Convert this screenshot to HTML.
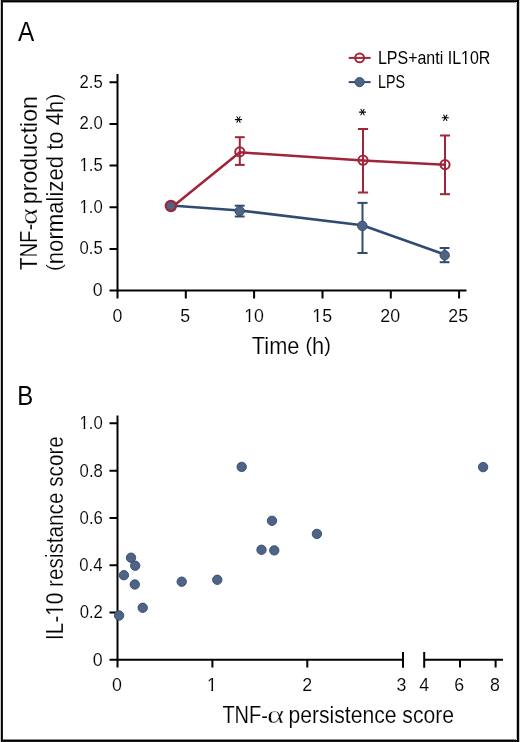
<!DOCTYPE html>
<html><head><meta charset="utf-8">
<style>
html,body{margin:0;padding:0;background:#fff;}
body{width:520px;height:742px;overflow:hidden;}
svg{display:block;will-change:transform;}
text{font-family:"Liberation Sans",sans-serif;fill:#000;}
</style></head><body>
<svg width="520" height="742" viewBox="0 0 520 742">
<rect x="0" y="0" width="520" height="742" fill="#fff"/>
<g shape-rendering="crispEdges">
<rect x="1" y="0" width="518" height="1" fill="rgb(25,25,25)"/><rect x="1" y="1" width="518" height="1" fill="#000"/><rect x="3" y="2" width="513" height="1" fill="rgb(150,150,150)"/>
<rect x="1" y="741" width="518" height="1" fill="rgb(25,25,25)"/><rect x="1" y="740" width="518" height="1" fill="#000"/><rect x="3" y="739" width="513" height="1" fill="rgb(140,140,140)"/>
<rect x="0" y="0" width="1" height="742" fill="rgb(205,205,205)"/><rect x="1" y="0" width="1" height="742" fill="#000"/><rect x="2" y="0" width="1" height="742" fill="rgb(30,30,30)"/>
<rect x="519" y="0" width="1" height="742" fill="rgb(205,205,205)"/><rect x="517" y="0" width="1" height="742" fill="#000"/><rect x="518" y="0" width="1" height="742" fill="rgb(10,10,10)"/><rect x="516" y="3" width="1" height="736" fill="rgb(195,195,195)"/>
</g>
<g stroke="#000" stroke-width="2" fill="none">
<path d="M117.5 74V298.5M109.5 290.5H466.5M109.5 82.2H117.5M109.5 123.9H117.5M109.5 165.6H117.5M109.5 207.3H117.5M109.5 249.0H117.5M185.8 290.5V298.5M254.1 290.5V298.5M322.5 290.5V298.5M390.8 290.5V298.5M459.1 290.5V298.5"/>
<path d="M117.5 415.5V667.5M109.5 659.8H403M424.2 659.8H503M403 652V667.7M424.2 652V667.7M109.5 423.3H117.5M109.5 470.8H117.5M109.5 517.9H117.5M109.5 565.2H117.5M109.5 612.5H117.5M212.4 659.8V667.5M307.3 659.8V667.5M460 659.8V667.5M495.6 659.8V667.5"/>
</g>
<text transform="matrix(0.8705,0,0,1,17.93,40.8)" font-size="28">A</text>
<text transform="matrix(0.8547,0,0,1,17.2,405.2)" font-size="28">B</text>
<text transform="matrix(0.8695,0,0,1,377.9,63.8)" font-size="18.4">LPS+anti IL10R</text>
<text transform="matrix(0.7729,0,0,1,378,87.9)" font-size="18.4">LPS</text>
<text transform="matrix(0.9473,0,0,1,251.8,353.5)" font-size="23.0" style="stroke:#fff;stroke-width:0.15px">Time <tspan font-size="21.1" dy="-1.7">(</tspan><tspan dy="1.7">h</tspan><tspan font-size="21.1" dy="-1.7">)</tspan></text>
<text transform="matrix(0,-0.8848,1,0,37.2,270)" font-size="23.0" style="stroke:#fff;stroke-width:0.15px">TNF-</text>
<text transform="matrix(0,-1.267,1,0,37.4,224.9)" font-size="25.1" style="stroke:#fff;stroke-width:0.4px"><tspan style="font-family:&quot;Liberation Serif&quot;,serif">α</tspan></text>
<text transform="matrix(0,-1.008,1,0,37.2,204.2)" font-size="23.0" style="stroke:#fff;stroke-width:0.15px">production</text>
<text transform="matrix(0,-0.9629,1,0,62.6,271)" font-size="23.0" style="stroke:#fff;stroke-width:0.15px"><tspan font-size="21.1" dy="-1.7">(</tspan><tspan dy="1.7">normalized to 4h</tspan><tspan font-size="21.1" dy="-1.7">)</tspan></text>
<text transform="matrix(0,-0.9014,1,0,62.5,639.9)" font-size="23.0" style="stroke:#fff;stroke-width:0.15px">IL-10 resistance score</text>
<text transform="matrix(0.8709,0,0,1,222.4,723)" font-size="23.0" style="stroke:#fff;stroke-width:0.15px">TNF-</text>
<text transform="matrix(1.304,0,0,1,267,723)" font-size="25.1" style="stroke:#fff;stroke-width:0.4px"><tspan style="font-family:&quot;Liberation Serif&quot;,serif">α</tspan></text>
<text transform="matrix(0.9193,0,0,1,288.4,723)" font-size="23.0" style="stroke:#fff;stroke-width:0.15px">persistence score</text>
<text transform="matrix(0.94,0,0,1,79.57,87.7)" font-size="17.8" style="stroke:#fff;stroke-width:0.12px">2.5</text>
<text transform="matrix(0.94,0,0,1,79.51,129.4)" font-size="17.8" style="stroke:#fff;stroke-width:0.12px">2.0</text>
<text transform="matrix(0.94,0,0,1,79.57,170.6)" font-size="17.8" style="stroke:#fff;stroke-width:0.12px">1.5</text>
<text transform="matrix(0.94,0,0,1,79.51,212.9)" font-size="17.8" style="stroke:#fff;stroke-width:0.12px">1.0</text>
<text transform="matrix(0.94,0,0,1,79.57,254.3)" font-size="17.8" style="stroke:#fff;stroke-width:0.12px">0.5</text>
<text transform="matrix(1,0,0,1,92.83,296.3)" font-size="17.8" style="stroke:#fff;stroke-width:0.12px">0</text>
<text transform="matrix(0.94,0,0,1,79.51,429)" font-size="17.8" style="stroke:#fff;stroke-width:0.12px">1.0</text>
<text transform="matrix(0.94,0,0,1,79.61,476.7)" font-size="17.8" style="stroke:#fff;stroke-width:0.12px">0.8</text>
<text transform="matrix(0.94,0,0,1,79.59,524)" font-size="17.8" style="stroke:#fff;stroke-width:0.12px">0.6</text>
<text transform="matrix(0.94,0,0,1,79.29,571)" font-size="17.8" style="stroke:#fff;stroke-width:0.12px">0.4</text>
<text transform="matrix(0.94,0,0,1,79.64,618)" font-size="17.8" style="stroke:#fff;stroke-width:0.12px">0.2</text>
<text transform="matrix(1,0,0,1,92.83,665.7)" font-size="17.8" style="stroke:#fff;stroke-width:0.12px">0</text>
<text transform="matrix(1,0,0,1,112.6,321.8)" font-size="17.8" style="stroke:#fff;stroke-width:0.12px">0</text>
<text transform="matrix(1,0,0,1,180.3,321.8)" font-size="17.8" style="stroke:#fff;stroke-width:0.12px">5</text>
<text transform="matrix(1,0,0,1,244.2,321.8)" font-size="17.8" style="stroke:#fff;stroke-width:0.12px">10</text>
<text transform="matrix(1,0,0,1,312.3,321.8)" font-size="17.8" style="stroke:#fff;stroke-width:0.12px">15</text>
<text transform="matrix(1,0,0,1,380.3,321.8)" font-size="17.8" style="stroke:#fff;stroke-width:0.12px">20</text>
<text transform="matrix(1,0,0,1,448.3,321.8)" font-size="17.8" style="stroke:#fff;stroke-width:0.12px">25</text>
<text transform="matrix(1,0,0,1,112.1,690.8)" font-size="17.8" style="stroke:#fff;stroke-width:0.12px">0</text>
<text transform="matrix(1,0,0,1,206.9,690.8)" font-size="17.8" style="stroke:#fff;stroke-width:0.12px">1</text>
<text transform="matrix(1,0,0,1,302.2,690.8)" font-size="17.8" style="stroke:#fff;stroke-width:0.12px">2</text>
<text transform="matrix(1,0,0,1,396.5,690.8)" font-size="17.8" style="stroke:#fff;stroke-width:0.12px">3</text>
<text transform="matrix(1,0,0,1,419.2,690.8)" font-size="17.8" style="stroke:#fff;stroke-width:0.12px">4</text>
<text transform="matrix(1,0,0,1,454.2,690.8)" font-size="17.8" style="stroke:#fff;stroke-width:0.12px">6</text>
<text transform="matrix(1,0,0,1,490,690.8)" font-size="17.8" style="stroke:#fff;stroke-width:0.12px">8</text>
<g fill="#fff"><g transform="matrix(0.8695,0,0,1,377.9,63.8)"><rect x="96.20" y="-2.37" width="3.91" height="2.87"/><rect x="101.97" y="-2.37" width="3.76" height="2.87"/></g><g transform="matrix(0,-0.9014,1,0,62.5,639.9)"><rect x="27.75" y="-2.72" width="4.71" height="3.22"/><rect x="34.74" y="-2.72" width="4.53" height="3.22"/></g><g transform="matrix(0.94,0,0,1,79.57,170.6)"><rect x="0.56" y="-2.33" width="3.80" height="2.83"/><rect x="6.17" y="-2.33" width="3.66" height="2.83"/></g><g transform="matrix(0.94,0,0,1,79.51,212.9)"><rect x="0.56" y="-2.33" width="3.80" height="2.83"/><rect x="6.17" y="-2.33" width="3.66" height="2.83"/></g><g transform="matrix(0.94,0,0,1,79.51,429)"><rect x="0.56" y="-2.33" width="3.80" height="2.83"/><rect x="6.17" y="-2.33" width="3.66" height="2.83"/></g><g transform="matrix(1,0,0,1,244.2,321.8)"><rect x="0.56" y="-2.33" width="3.80" height="2.83"/><rect x="6.17" y="-2.33" width="3.66" height="2.83"/></g><g transform="matrix(1,0,0,1,312.3,321.8)"><rect x="0.56" y="-2.33" width="3.80" height="2.83"/><rect x="6.17" y="-2.33" width="3.66" height="2.83"/></g><g transform="matrix(1,0,0,1,206.9,690.8)"><rect x="0.56" y="-2.33" width="3.80" height="2.83"/><rect x="6.17" y="-2.33" width="3.66" height="2.83"/></g></g>
<!-- legend -->
<g stroke="#a02539" stroke-width="2" fill="none">
  <line x1="348.7" y1="57.9" x2="370.6" y2="57.9"/>
  <circle cx="359.6" cy="57.9" r="4.4"/>
</g>
<g stroke="#2f4b73" stroke-width="2">
  <line x1="348.7" y1="82.1" x2="370.6" y2="82.1"/>
  <circle cx="359.6" cy="82.1" r="4.6" fill="#4f6385" stroke-width="0.9"/>
</g>
<!-- series -->
<g stroke="#a02539" stroke-width="2.5" fill="none" stroke-linejoin="round">
  <polyline points="171,208.0 239.8,152.3 363,160.5 445,164.8"/>
</g>
<g stroke="#2f4b73" stroke-width="2.5" fill="none" stroke-linejoin="round">
  <polyline points="171,205.6 239.7,210.4 362.3,225.2 444.7,254.5"/>
</g>
<g stroke="#2f4b73" stroke-width="2" fill="none">
  <line x1="239.7" y1="205.7" x2="239.7" y2="216.5"/><line x1="234.80" y1="205.7" x2="244.60" y2="205.7"/><line x1="234.80" y1="216.5" x2="244.60" y2="216.5"/><line x1="362.5" y1="202.9" x2="362.5" y2="253"/><line x1="357.45" y1="202.9" x2="367.55" y2="202.9"/><line x1="357.45" y1="253" x2="367.55" y2="253"/><line x1="444.6" y1="248" x2="444.6" y2="262.2"/><line x1="439.70" y1="248" x2="449.50" y2="248"/><line x1="439.70" y1="262.2" x2="449.50" y2="262.2"/>
</g>
<g stroke="#a02539" stroke-width="2" fill="none">
  <line x1="239.8" y1="137.2" x2="239.8" y2="164.9"/><line x1="234.90" y1="137.2" x2="244.70" y2="137.2"/><line x1="234.90" y1="164.9" x2="244.70" y2="164.9"/><line x1="363" y1="129" x2="363" y2="192.5"/><line x1="357.90" y1="129" x2="368.10" y2="129"/><line x1="357.90" y1="192.5" x2="368.10" y2="192.5"/><line x1="445" y1="135.5" x2="445" y2="194.2"/><line x1="440.00" y1="135.5" x2="450.00" y2="135.5"/><line x1="440.00" y1="194.2" x2="450.00" y2="194.2"/>
</g>
<g fill="#4f6385" stroke="#2f4b73" stroke-width="0.9">
  <circle cx="171" cy="206" r="4.6"/><circle cx="239.7" cy="211.1" r="4.7"/><circle cx="362.3" cy="225.9" r="4.8"/><circle cx="444.7" cy="255.3" r="4.7"/>
</g>
<g stroke="#a02539" stroke-width="2" fill="none">
  <circle cx="170.9" cy="206" r="5.1" stroke-width="2.2"/><circle cx="239.8" cy="151.9" r="4.6"/><circle cx="363" cy="160.2" r="4.6"/><circle cx="445" cy="164.6" r="4.6"/>
</g>
<g stroke="#000" stroke-width="1.05" stroke-linecap="round">
  <g transform="translate(238.5,119.6)"><line x1="-3.1" y1="0" x2="3.1" y2="0"/><line x1="-1.6" y1="-2.75" x2="1.6" y2="2.75"/><line x1="1.6" y1="-2.75" x2="-1.6" y2="2.75"/></g><g transform="translate(362.5,112.1)"><line x1="-3.1" y1="0" x2="3.1" y2="0"/><line x1="-1.6" y1="-2.75" x2="1.6" y2="2.75"/><line x1="1.6" y1="-2.75" x2="-1.6" y2="2.75"/></g><g transform="translate(445.3,117.8)"><line x1="-3.1" y1="0" x2="3.1" y2="0"/><line x1="-1.6" y1="-2.75" x2="1.6" y2="2.75"/><line x1="1.6" y1="-2.75" x2="-1.6" y2="2.75"/></g>
</g>
<!-- scatter B -->
<g fill="#4f6385" stroke="#2f4b73" stroke-width="0.9">
<circle cx="131" cy="557.7" r="4.7"/><circle cx="135.2" cy="565.7" r="4.7"/><circle cx="123.9" cy="575.2" r="4.7"/><circle cx="134.8" cy="584.5" r="4.7"/><circle cx="181.7" cy="581.7" r="4.7"/><circle cx="217.3" cy="579.8" r="4.7"/><circle cx="142.7" cy="607.8" r="4.7"/><circle cx="119.1" cy="615.5" r="4.7"/><circle cx="241.7" cy="466.9" r="4.7"/><circle cx="272" cy="520.8" r="4.7"/><circle cx="316.9" cy="533.9" r="4.7"/><circle cx="261.5" cy="549.8" r="4.7"/><circle cx="274.3" cy="550.4" r="4.7"/><circle cx="483.1" cy="467.1" r="4.7"/>
</g>
</svg>
</body></html>
